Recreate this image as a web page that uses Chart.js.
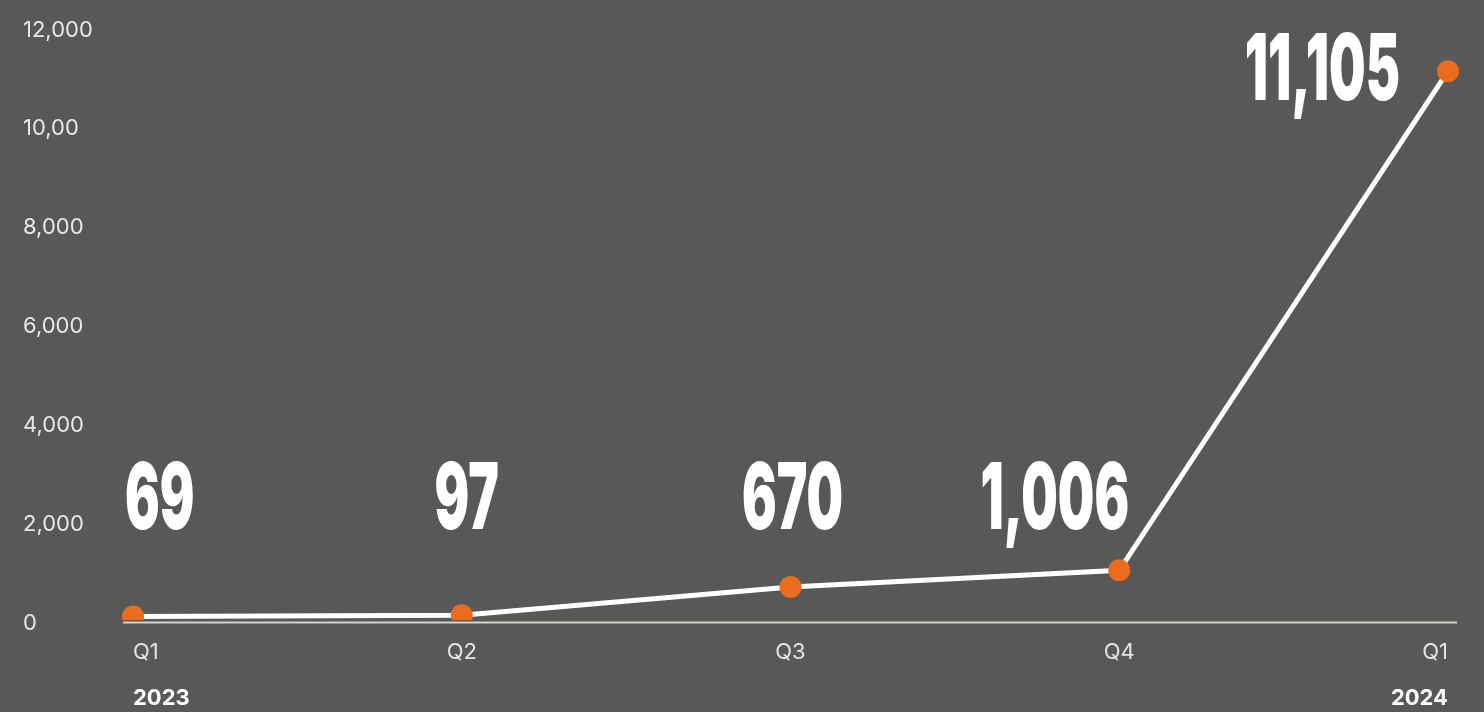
<!DOCTYPE html>
<html>
<head>
<meta charset="utf-8">
<script src="https://cdn.jsdelivr.net/npm/chart.js@4/dist/chart.umd.min.js"></script>
<style>
  html, body { margin: 0; padding: 0; background: #585856; }
  #wrap { width: 1484px; height: 712px; }
</style>
</head>
<body>
<div id="wrap"><canvas id="chart" width="1484" height="712"></canvas></div>
<script>
const quarters = ['Q1', 'Q2', 'Q3', 'Q4', 'Q1'];
const years = ['2023', '', '', '', '2024'];
const values = [69, 97, 670, 1006, 11105];
const yTickLabels = ['0', '2,000', '4,000', '6,000', '8,000', '10,00', '12,000'];

// where each big number sits relative to its point
const labelPlacement = [
    { align: 'left', dx: -8, row: true },
    { align: 'center', dx: 5, row: true },
    { align: 'center', dx: 2, row: true },
    { align: 'right', dx: 10, row: true },
    { align: 'right', dx: -48, row: false, dy: 29 }
];
const labelRowValue = 1850;

const baseline = {
    id: 'baseline',
    beforeDatasetsDraw(chart) {
        const { ctx, chartArea, scales } = chart;
        const y = scales.y.getPixelForValue(0) + 2.5;
        ctx.save();
        ctx.strokeStyle = '#d2d2ce';
        ctx.lineWidth = 2;
        ctx.beginPath();
        ctx.moveTo(chartArea.left - 10, y);
        ctx.lineTo(chartArea.right + 9, y);
        ctx.stroke();
        ctx.restore();
    }
};

const bigLabels = {
    id: 'bigLabels',
    afterDatasetsDraw(chart) {
        const { ctx, scales } = chart;
        const meta = chart.getDatasetMeta(0);
        ctx.save();
        ctx.fillStyle = '#ffffff';
        ctx.font = '900 92px Inter';
        ctx.textBaseline = 'alphabetic';
        meta.data.forEach((pt, i) => {
            const p = labelPlacement[i];
            const x = pt.x + p.dx;
            const y = p.row ? scales.y.getPixelForValue(labelRowValue) : pt.y + p.dy;
            ctx.save();
            ctx.translate(x, y);
            ctx.scale(0.56, 1);
            ctx.textAlign = p.align;
            ctx.fillText(values[i].toLocaleString('en-US'), 0, 0);
            ctx.restore();
        });
        ctx.restore();
    }
};

new Chart(document.getElementById('chart'), {
    type: 'line',
    data: {
        labels: quarters,
        datasets: [{
            data: values,
            borderColor: '#ffffff',
            borderWidth: 5,
            tension: 0,
            pointRadius: 11,
            pointBackgroundColor: '#ec6c1d',
            pointBorderWidth: 0,
            pointHoverRadius: 11
        }]
    },
    options: {
        responsive: false,
        animation: false,
        devicePixelRatio: 1,
        layout: { padding: { left: 23, right: 36, top: 27, bottom: 2 } },
        plugins: {
            legend: { display: false },
            tooltip: { enabled: false }
        },
        scales: {
            y: {
                min: 0,
                max: 12000,
                afterFit: scale => { scale.width = 110; },
                grid: { display: false, drawTicks: false },
                border: { display: false },
                ticks: {
                    stepSize: 2000,
                    crossAlign: 'far',
                    labelOffset: 3,
                    color: '#e8e8e6',
                    font: { family: 'Inter', size: 22 },
                    callback: (v, i) => yTickLabels[i]
                }
            },
            x: {
                afterFit: scale => { scale.height = 46; },
                grid: { display: false, drawTicks: false },
                border: { display: false },
                ticks: {
                    align: 'inner',
                    padding: 19,
                    maxRotation: 0,
                    color: '#e4e4e2',
                    font: { family: 'Inter', size: 22 }
                }
            },
            x2: {
                type: 'category',
                position: 'bottom',
                labels: years,
                afterFit: scale => { scale.height = 44; },
                grid: { display: false, drawTicks: false },
                border: { display: false },
                ticks: {
                    align: 'inner',
                    padding: 19,
                    autoSkip: false,
                    maxRotation: 0,
                    color: '#ffffff',
                    font: { family: 'Inter', size: 22, weight: 'bold' }
                }
            }
        }
    },
    plugins: [baseline, bigLabels]
});
</script>
</body>
</html>
